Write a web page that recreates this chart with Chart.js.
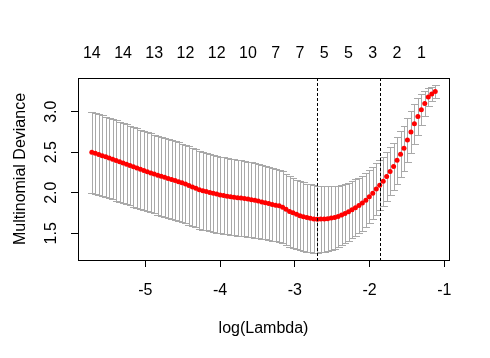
<!DOCTYPE html>
<html>
<head>
<meta charset="utf-8">
<script src="https://cdn.jsdelivr.net/npm/chart.js@4/dist/chart.umd.min.js"></script>
<style>
  html, body { margin: 0; padding: 0; background: #ffffff; }
  #wrap { width: 490px; height: 358px; }
</style>
</head>
<body>
<div id="wrap"><canvas id="c" width="490" height="358"></canvas></div>
<script>
// ---- data ----
const logLambda = [
  -5.715,-5.669,-5.622,-5.576,-5.529,-5.483,-5.437,-5.390,-5.344,-5.297,
  -5.251,-5.205,-5.158,-5.112,-5.065,-5.019,-4.973,-4.926,-4.880,-4.833,
  -4.787,-4.741,-4.694,-4.648,-4.601,-4.555,-4.509,-4.462,-4.416,-4.369,
  -4.323,-4.277,-4.230,-4.184,-4.137,-4.091,-4.045,-3.998,-3.952,-3.905,
  -3.859,-3.813,-3.766,-3.720,-3.673,-3.627,-3.581,-3.534,-3.488,-3.441,
  -3.395,-3.349,-3.302,-3.256,-3.209,-3.163,-3.117,-3.070,-3.024,-2.977,
  -2.931,-2.885,-2.838,-2.792,-2.745,-2.699,-2.653,-2.606,-2.560,-2.513,
  -2.467,-2.421,-2.374,-2.328,-2.281,-2.235,-2.189,-2.142,-2.096,-2.049,
  -2.003,-1.957,-1.910,-1.864,-1.817,-1.771,-1.725,-1.678,-1.632,-1.585,
  -1.539,-1.493,-1.446,-1.400,-1.353,-1.307,-1.261,-1.214,-1.168,-1.121
];
const cvMean = [
  2.500,2.487,2.472,2.457,2.443,2.428,2.412,2.397,2.383,2.368,
  2.352,2.336,2.321,2.306,2.290,2.275,2.259,2.245,2.231,2.217,
  2.204,2.190,2.176,2.163,2.150,2.137,2.123,2.108,2.090,2.072,
  2.055,2.038,2.025,2.014,2.004,1.994,1.983,1.973,1.965,1.958,
  1.950,1.943,1.939,1.935,1.930,1.922,1.914,1.906,1.897,1.887,
  1.876,1.866,1.856,1.847,1.838,1.822,1.797,1.770,1.752,1.734,
  1.717,1.704,1.693,1.684,1.677,1.672,1.675,1.677,1.680,1.687,
  1.695,1.708,1.724,1.743,1.765,1.790,1.815,1.843,1.872,1.908,
  1.950,1.995,2.045,2.092,2.142,2.200,2.263,2.325,2.400,2.475,
  2.550,2.650,2.750,2.850,2.940,3.025,3.100,3.180,3.220,3.250
];
const cvSd = [
  0.500,0.499,0.498,0.497,0.497,0.496,0.495,0.495,0.494,0.493,
  0.493,0.492,0.491,0.491,0.490,0.489,0.489,0.488,0.487,0.487,
  0.486,0.486,0.485,0.485,0.484,0.484,0.483,0.483,0.482,0.482,
  0.481,0.480,0.479,0.478,0.477,0.476,0.475,0.474,0.473,0.472,
  0.471,0.470,0.469,0.467,0.465,0.463,0.461,0.459,0.457,0.455,
  0.453,0.451,0.449,0.447,0.445,0.442,0.439,0.436,0.432,0.428,
  0.425,0.423,0.421,0.419,0.418,0.417,0.412,0.405,0.398,0.391,
  0.384,0.377,0.371,0.365,0.360,0.354,0.349,0.344,0.340,0.335,
  0.328,0.322,0.316,0.310,0.305,0.300,0.296,0.292,0.287,0.282,
  0.277,0.272,0.262,0.247,0.225,0.190,0.150,0.115,0.090,0.075
];
const xTickValues = [-5, -4, -3, -2, -1];
const yTickValues = [1.5, 2.0, 2.5, 3.0];
const yTickLabels = ['1.5', '2.0', '2.5', '3.0'];
const topTickPositions = [-5.715,-5.297,-4.880,-4.462,-4.045,-3.627,-3.256,-2.931,-2.606,-2.281,-1.957,-1.632,-1.307];
const topTickLabels = ['14','14','13','12','12','10','7','7','5','5','3','2','1'];
const lambdaMinLog = -2.699;
const lambda1seLog = -1.864;
const xTitle = 'log(Lambda)';
const yTitle = 'Multinomial Deviance';

// ---- styles ----
const FONT = '"Liberation Sans", Arial, sans-serif';
const BAR_HALF = 0.046; // cap half-width in x-units

const points = logLambda.map((x, i) => ({ x: x, y: cvMean[i] }));

const errorBars = {
  id: 'errorBars',
  beforeDatasetsDraw(chart) {
    const { ctx, scales: { x, y } } = chart;
    ctx.save();
    ctx.strokeStyle = '#A9A9A9';
    ctx.lineWidth = 1;
    ctx.beginPath();
    for (let i = 0; i < logLambda.length; i++) {
      const up = cvMean[i] + cvSd[i];
      const lo = cvMean[i] - cvSd[i];
      const px = Math.round(x.getPixelForValue(logLambda[i])) + 0.5;
      const pl = Math.round(x.getPixelForValue(logLambda[i] - BAR_HALF));
      const pr = Math.round(x.getPixelForValue(logLambda[i] + BAR_HALF)) + 1;
      const pu = Math.round(y.getPixelForValue(up)) + 0.5;
      const pd = Math.round(y.getPixelForValue(lo)) + 0.5;
      ctx.moveTo(px, pu); ctx.lineTo(px, pd);
      ctx.moveTo(pl, pu); ctx.lineTo(pr, pu);
      ctx.moveTo(pl, pd); ctx.lineTo(pr, pd);
    }
    ctx.stroke();
    ctx.restore();
  },
  afterDatasetsDraw(chart) {
    const { ctx, chartArea: a, scales: { x, y } } = chart;
    ctx.save();
    // reference lines
    ctx.strokeStyle = '#000';
    ctx.lineWidth = 1;
    ctx.setLineDash([3, 2]);
    [lambdaMinLog, lambda1seLog].forEach(v => {
      const px = Math.round(x.getPixelForValue(v)) + 0.5;
      ctx.beginPath();
      ctx.moveTo(px, a.top);
      ctx.lineTo(px, a.bottom);
      ctx.stroke();
    });
    ctx.setLineDash([]);
    // box
    ctx.strokeRect(Math.round(a.left) + 0.5, Math.round(a.top) + 0.5,
                   Math.round(a.right - a.left), Math.round(a.bottom - a.top));
    // rotated y tick labels
    ctx.fillStyle = '#000';
    ctx.font = '16px ' + FONT;
    ctx.textAlign = 'center';
    ctx.textBaseline = 'alphabetic';
    yTickValues.forEach((v, i) => {
      ctx.save();
      ctx.translate(56, y.getPixelForValue(v));
      ctx.rotate(-Math.PI / 2);
      ctx.fillText(yTickLabels[i], 0, 0);
      ctx.restore();
    });
    // y title
    ctx.save();
    ctx.translate(25, (a.top + a.bottom) / 2);
    ctx.rotate(-Math.PI / 2);
    ctx.fillText(yTitle, 0, 0);
    ctx.restore();
    ctx.restore();
  }
};

new Chart(document.getElementById('c'), {
  type: 'scatter',
  data: {
    datasets: [{
      data: points,
      backgroundColor: '#FF0000',
      borderColor: '#FF0000',
      borderWidth: 0,
      pointRadius: 2.5,
      pointHoverRadius: 2.5
    }]
  },
  options: {
    responsive: false,
    animation: false,
    events: [],
    layout: { padding: { left: 0, right: 41, top: 0, bottom: 0 } },
    plugins: { legend: { display: false }, tooltip: { enabled: false } },
    scales: {
      x: {
        type: 'linear',
        position: 'bottom',
        min: -5.9,
        max: -0.937,
        afterBuildTicks: s => { s.ticks = xTickValues.map(v => ({ value: v })); },
        afterFit: s => { s.height = 98; },
        grid: { drawOnChartArea: false, drawTicks: true, tickLength: 7, color: '#000', lineWidth: 1 },
        border: { display: false },
        ticks: {
          autoSkip: false, maxRotation: 0, minRotation: 0,
          color: '#000', padding: 14,
          font: { family: FONT, size: 16 },
          callback: v => String(v)
        },
        title: {
          display: true, text: xTitle, color: '#000',
          font: { family: FONT, size: 16 },
          padding: { top: 0, bottom: 20 }
        }
      },
      x2: {
        type: 'linear',
        position: 'top',
        min: -5.9,
        max: -0.937,
        afterBuildTicks: s => { s.ticks = topTickPositions.map(v => ({ value: v })); },
        afterFit: s => { s.height = 78; },
        grid: { drawOnChartArea: false, drawTicks: false },
        border: { display: false },
        ticks: {
          autoSkip: false, maxRotation: 0, minRotation: 0,
          color: '#000', padding: 15,
          font: { family: FONT, size: 16 },
          callback: (v, i) => topTickLabels[i]
        }
      },
      y: {
        type: 'linear',
        position: 'left',
        min: 1.17,
        max: 3.416,
        afterBuildTicks: s => { s.ticks = yTickValues.map(v => ({ value: v })); },
        afterFit: s => { s.width = 78; },
        grid: { drawOnChartArea: false, drawTicks: true, tickLength: 7, color: '#000', lineWidth: 1 },
        border: { display: false },
        ticks: { color: 'rgba(0,0,0,0)', font: { family: FONT, size: 16 } }
      }
    }
  },
  plugins: [errorBars]
});
</script>
</body>
</html>
